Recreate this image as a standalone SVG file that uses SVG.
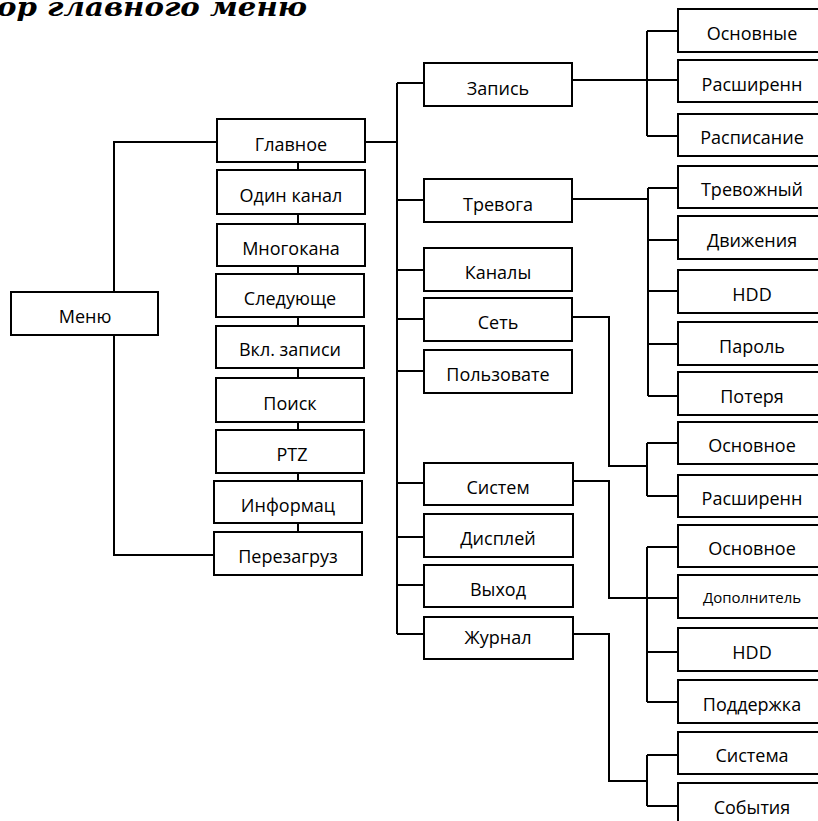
<svg xmlns="http://www.w3.org/2000/svg" width="818" height="821" viewBox="0 0 818 821">
<style>
.bx rect{fill:#fff;stroke:#000;stroke-width:2}
.bx text{font-family:"Open Sans","Liberation Sans",sans-serif;font-size:18px;fill:#000;text-anchor:middle}
.bx text.sm{font-size:15px}
#connectors path{fill:none;stroke:#000;stroke-width:2}
.title{font-family:"DejaVu Serif","Liberation Serif",serif;font-weight:bold;font-style:italic;font-size:26px;fill:#000}
</style>
<rect width="818" height="821" fill="#fff"/>
<text class="title" x="-3" y="16" textLength="310" lengthAdjust="spacingAndGlyphs">ор главного меню</text>
<g id="connectors">
<path d="M217,142 H114 V292 M114,335 V555 H214"/>
<path d="M298,162 V532"/>
<path d="M365,142 H397 M397,83 V634 M397,83 H424 M397,200 H424 M397,270 H424 M397,319 H424 M397,371 H424 M397,483 H424 M397,537 H424 M397,585 H424 M397,634 H424"/>
<path d="M572,80 H678 M647,31 V136 M647,31 H678 M647,136 H678"/>
<path d="M572,199 H648 M648,188 V396 M648,188 H678 M648,240 H678 M648,291 H678 M648,344 H678 M648,396 H678"/>
<path d="M572,317 H609 V466 H647 M647,443 V496 M647,443 H678 M647,496 H678"/>
<path d="M573,481 H609 V598 H678 M647,547 V702 M647,547 H678 M647,652 H678 M647,702 H678"/>
<path d="M573,634 H609 V781 H647 M647,755 V806 M647,755 H678 M647,806 H678"/>
</g>
<g id="menu" class="bx"><rect x="11" y="292" width="147" height="43"/><text x="85" y="322.5">Меню</text></g>
<g id="glavnoe" class="bx"><rect x="217" y="119" width="148" height="43"/><text x="291" y="150.5">Главное</text></g>
<g id="odin" class="bx"><rect x="217" y="170" width="148" height="44"/><text x="291" y="201.5">Один канал</text></g>
<g id="mnogo" class="bx"><rect x="217" y="224" width="148" height="42"/><text x="291" y="254.5">Многокана</text></g>
<g id="sled" class="bx"><rect x="216" y="274" width="148" height="43"/><text x="290" y="305">Следующе</text></g>
<g id="vkl" class="bx"><rect x="216" y="326" width="148" height="42"/><text x="290" y="356">Вкл. записи</text></g>
<g id="poisk" class="bx"><rect x="216" y="378" width="148" height="44"/><text x="290" y="409.5">Поиск</text></g>
<g id="ptz" class="bx"><rect x="216" y="430" width="148" height="43"/><text x="292" y="461">PTZ</text></g>
<g id="inform" class="bx"><rect x="214" y="481" width="148" height="42"/><text x="288" y="511.5">Информац</text></g>
<g id="perez" class="bx"><rect x="214" y="532" width="148" height="43"/><text x="288" y="563">Перезагруз</text></g>
<g id="zapis" class="bx"><rect x="424" y="63" width="148" height="43"/><text x="498" y="95">Запись</text></g>
<g id="trevoga" class="bx"><rect x="424" y="179" width="148" height="43"/><text x="498" y="211">Тревога</text></g>
<g id="kanaly" class="bx"><rect x="424" y="248" width="148" height="43"/><text x="498" y="278.5">Каналы</text></g>
<g id="set" class="bx"><rect x="424" y="298" width="148" height="43"/><text x="498" y="329">Сеть</text></g>
<g id="polz" class="bx"><rect x="424" y="350" width="148" height="43"/><text x="498" y="381">Пользовате</text></g>
<g id="sistem" class="bx"><rect x="424" y="463" width="149" height="42"/><text x="498" y="493.5">Систем</text></g>
<g id="displ" class="bx"><rect x="424" y="514" width="149" height="43"/><text x="498" y="544.5">Дисплей</text></g>
<g id="vyhod" class="bx"><rect x="424" y="565" width="149" height="42"/><text x="498" y="595.5">Выход</text></g>
<g id="zhurnal" class="bx"><rect x="424" y="617" width="149" height="42"/><text x="498" y="644">Журнал</text></g>
<g id="osnovnye" class="bx"><rect x="678" y="9" width="148" height="43"/><text x="752" y="40">Основные</text></g>
<g id="rasshir1" class="bx"><rect x="678" y="60" width="148" height="42"/><text x="752" y="90.5">Расширенн</text></g>
<g id="raspis" class="bx"><rect x="678" y="114" width="148" height="42"/><text x="752" y="144">Расписание</text></g>
<g id="trevozh" class="bx"><rect x="678" y="166" width="148" height="42"/><text x="752" y="196">Тревожный</text></g>
<g id="dvizh" class="bx"><rect x="678" y="216" width="148" height="43"/><text x="752" y="247">Движения</text></g>
<g id="hdd1" class="bx"><rect x="678" y="270" width="148" height="43"/><text x="752" y="301">HDD</text></g>
<g id="parol" class="bx"><rect x="678" y="322" width="148" height="43"/><text x="752" y="353">Пароль</text></g>
<g id="poterya" class="bx"><rect x="678" y="372" width="148" height="43"/><text x="752" y="403">Потеря</text></g>
<g id="osnovnoe1" class="bx"><rect x="678" y="422" width="148" height="42"/><text x="752" y="452">Основное</text></g>
<g id="rasshir2" class="bx"><rect x="678" y="475" width="148" height="42"/><text x="752" y="505">Расширенн</text></g>
<g id="osnovnoe2" class="bx"><rect x="678" y="525" width="148" height="42"/><text x="752" y="555">Основное</text></g>
<g id="dopoln" class="bx"><rect x="678" y="575" width="148" height="43"/><text class="sm" x="752" y="603">Дополнитель</text></g>
<g id="hdd2" class="bx"><rect x="678" y="628" width="148" height="43"/><text x="752" y="659">HDD</text></g>
<g id="podderzh" class="bx"><rect x="678" y="680" width="148" height="43"/><text x="752" y="711">Поддержка</text></g>
<g id="sistema" class="bx"><rect x="678" y="732" width="148" height="42"/><text x="752" y="762">Система</text></g>
<g id="sobytiya" class="bx"><rect x="678" y="783" width="148" height="43"/><text x="752" y="814">События</text></g>
</svg>
